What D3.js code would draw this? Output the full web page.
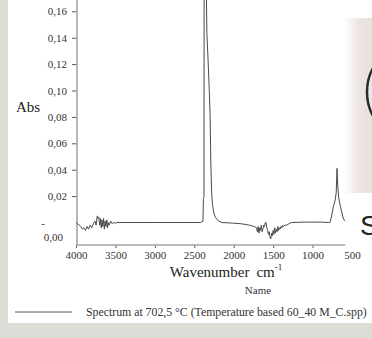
<!DOCTYPE html>
<html>
<head>
<meta charset="utf-8">
<script src="https://cdn.jsdelivr.net/npm/d3@7"></script>
<style>
  html, body { margin: 0; padding: 0; background: #ffffff; }
  svg { display: block; }
</style>
</head>
<body>
<div id="chart"></div>
<script>
// spectrum (wavenumber cm-1 / absorbance)
const wavenumbers = [
  4000, 3980, 3960, 3940, 3920, 3900, 3880, 3860, 3840, 3820, 3800, 3780, 3760, 3745,
  3730, 3720, 3710, 3700, 3690, 3680, 3670, 3660, 3650, 3640, 3630, 3620, 3610, 3600,
  3590, 3580, 3560, 3540, 3520, 3500, 3480, 3000, 2420, 2390, 2384, 2380, 2377, 2374,
  2352, 2346, 2340, 2325, 2310, 2300, 2290, 2280, 2268, 2255, 2240, 2220, 2190, 2150,
  2000, 1900, 1800, 1740, 1710, 1700, 1690, 1680, 1670, 1660, 1650, 1640, 1630, 1620,
  1610, 1600, 1590, 1580, 1570, 1560, 1550, 1540, 1530, 1520, 1510, 1500, 1490, 1480,
  1470, 1460, 1450, 1440, 1430, 1420, 1410, 1400, 1390, 1380, 1370, 1350, 1330, 1300,
  1270, 1100, 900, 800, 780, 764, 745, 732, 713, 700, 690, 681, 669, 650, 631, 612, 595, 587
];
const absorbance = [
  0.000, -0.001, -0.002, -0.003, -0.005, -0.004, -0.006, -0.003, -0.005, -0.002, -0.004, -0.001, 0.001, -0.002,
  0.005, 0.003, 0.004, -0.002, 0.003, -0.004, 0.002, -0.003, 0.003, -0.005, 0.001, -0.003, 0.002, -0.004,
  0.000, -0.002, 0.001, -0.001, 0.000, -0.0005, 0.000, 0.000, 0.000, 0.001, 0.018, 0.019, 0.020, 0.300,
  0.300, 0.170, 0.143, 0.123, 0.100, 0.082, 0.045, 0.022, 0.013, 0.008, 0.005, 0.003, 0.001, 0.000,
  -0.0005, -0.001, -0.002, -0.003, -0.004, -0.007, -0.003, -0.008, -0.004, -0.006, -0.002, -0.007, -0.005, -0.002,
  -0.003, 0.000, 0.000, -0.004, -0.006, -0.009, -0.007, -0.011, -0.0125, -0.008, -0.010, -0.006, -0.009, -0.004,
  -0.008, -0.005, -0.007, -0.003, -0.006, -0.004, -0.005, -0.003, -0.004, -0.002, -0.003, -0.002, -0.002, -0.001,
  0.000, 0.0003, 0.0003, 0.000, 0.000, 0.0034, 0.0095, 0.013, 0.017, 0.023, 0.041, 0.028, 0.0186, 0.013, 0.008, 0.0034, 0.0015, 0.001
];

const xTicks = [4000, 3500, 3000, 2500, 2000, 1500, 1000, 500];
const yTicks = [0, 0.02, 0.04, 0.06, 0.08, 0.10, 0.12, 0.14, 0.16];
const xAxisEnd = 585;

const yLabel = 'Abs';
const xLabel = 'Wavenumber';
const xUnit = 'cm';
const legendTitle = 'Name';
const legendText = 'Spectrum at 702,5 °C (Temperature based 60_40 M_C.spp)';

const width = 372;
const height = 338;
const serif = '"Liberation Serif", "DejaVu Serif", serif';
const fmt = d => d3.format('.2f')(d).replace('.', ',');

const svg = d3.select('#chart')
  .append('svg')
  .attr('width', width)
  .attr('height', height);

svg.append('rect').attr('width', width).attr('height', height).attr('fill', '#ffffff');

// grey frame of the screenshot
svg.append('rect').attr('x', 0).attr('y', 0).attr('width', 8).attr('height', height).attr('fill', '#dddcd6');
svg.append('rect').attr('x', 0).attr('y', 323).attr('width', width).attr('height', height - 323).attr('fill', '#dddcd6');

// overlapping slide on the right side
const defs = svg.append('defs');
const grad = defs.append('linearGradient').attr('id', 'shade').attr('x1', '0').attr('x2', '1');
grad.append('stop').attr('offset', '0').attr('stop-color', '#ffffff');
grad.append('stop').attr('offset', '0.5').attr('stop-color', '#efe6e2');
grad.append('stop').attr('offset', '1').attr('stop-color', '#e6e2e0');
svg.append('rect').attr('x', 344).attr('y', 18).attr('width', 28).attr('height', 175).attr('fill', 'url(#shade)');
svg.append('circle').attr('cx', 417).attr('cy', 92).attr('r', 50)
  .attr('fill', '#e3eaea').attr('stroke', '#2b2b2b').attr('stroke-width', 2.5);
svg.append('text').attr('x', 360).attr('y', 235)
  .attr('font-family', '"Liberation Sans", Arial, sans-serif').attr('font-size', 28)
  .attr('fill', '#222').text('S');

const x = d3.scaleLinear().domain([4000, 500]).range([76, 352]);
const y = d3.scaleLinear().domain([0, 0.16]).range([222.5, 11.3]);
const axisY = 245;

defs.append('clipPath').attr('id', 'plot')
  .append('rect').attr('x', 76).attr('y', -20).attr('width', 280).attr('height', axisY + 20);

// Y axis
const gy = svg.append('g')
  .attr('transform', 'translate(77,0)')
  .call(d3.axisLeft(y).tickValues(yTicks).tickFormat(fmt).tickSize(5).tickPadding(5));
gy.select('.domain').remove();
gy.selectAll('.tick line').attr('stroke', '#555');
gy.selectAll('.tick text').attr('font-family', serif).attr('font-size', 11).attr('fill', '#333');
// the 0,00 label sits lower in the original, with a stray dash in its place
const zeroTick = gy.selectAll('.tick').filter(d => d === 0);
zeroTick.select('line').remove();
zeroTick.select('text').attr('dx', -4).attr('dy', '1.6em');
zeroTick.append('text').attr('x', -32).attr('dy', '0.32em')
  .attr('font-family', serif).attr('font-size', 11).attr('fill', '#333').text('-');
svg.append('line').attr('x1', 77).attr('x2', 77).attr('y1', 0).attr('y2', axisY)
  .attr('stroke', '#a5a5a5').attr('stroke-width', 1.6);

// X axis
const gx = svg.append('g')
  .attr('transform', `translate(0,${axisY})`)
  .call(d3.axisBottom(x).tickValues(xTicks).tickFormat(d3.format('d')).tickSize(3).tickPadding(3));
gx.select('.domain').remove();
gx.selectAll('.tick line').attr('stroke', '#555');
gx.selectAll('.tick').filter(d => d < xAxisEnd).select('line').remove();
gx.selectAll('.tick text').attr('font-family', serif).attr('font-size', 11).attr('fill', '#333');
svg.append('line').attr('x1', x(4000)).attr('x2', x(xAxisEnd)).attr('y1', axisY).attr('y2', axisY)
  .attr('stroke', '#a5a5a5').attr('stroke-width', 1.6);

// spectrum
const line = d3.line()
  .x((d, i) => x(wavenumbers[i]))
  .y(d => y(d));
svg.append('path')
  .datum(absorbance)
  .attr('clip-path', 'url(#plot)')
  .attr('fill', 'none')
  .attr('stroke', '#4a4a4a')
  .attr('stroke-width', 1)
  .attr('d', line);

// axis titles
svg.append('text').attr('x', 16).attr('y', 112)
  .attr('font-family', serif).attr('font-size', 15).attr('fill', '#222').text(yLabel);

const xt = svg.append('text').attr('x', 226).attr('y', 277).attr('text-anchor', 'middle')
  .attr('font-family', serif).attr('font-size', 15).attr('fill', '#222');
xt.append('tspan').text(xLabel);
xt.append('tspan').attr('dx', 7).text(xUnit);
xt.append('tspan').attr('dy', -7).attr('font-size', 9).text('-1');

// legend
svg.append('text').attr('x', 258).attr('y', 294).attr('text-anchor', 'middle')
  .attr('font-family', serif).attr('font-size', 11).attr('fill', '#333').text(legendTitle);
svg.append('line').attr('x1', 15).attr('x2', 72).attr('y1', 312).attr('y2', 312)
  .attr('stroke', '#555').attr('stroke-width', 1);
svg.append('text').attr('x', 86).attr('y', 316)
  .attr('font-family', serif).attr('font-size', 11.8).attr('fill', '#333').text(legendText);
</script>
</body>
</html>
